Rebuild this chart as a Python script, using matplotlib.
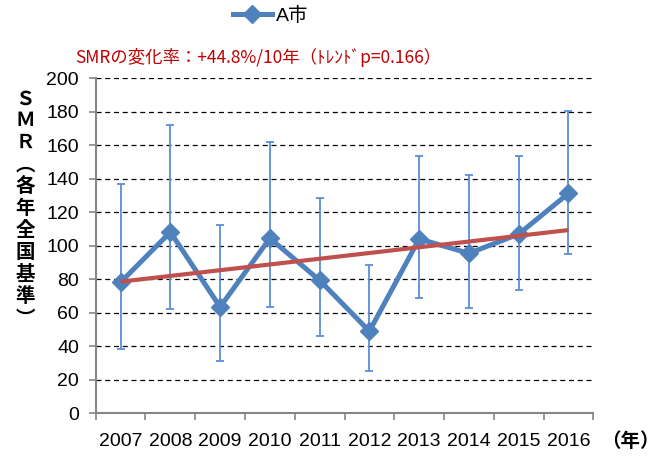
import matplotlib
matplotlib.use("Agg")
import matplotlib.pyplot as plt
from matplotlib.lines import Line2D
import numpy as np

# ── Data ──────────────────────────────────────────────────────────────────────
years     = ["2007", "2008", "2009", "2010", "2011", "2012", "2013", "2014", "2015", "2016"]
smr       = [78.2, 108.2, 63.5, 104.5, 79.4, 49.0, 104.1, 95.5, 107.0, 131.3]
ci_upper  = [136.7, 171.9, 112.2, 161.8, 128.7, 88.4, 153.6, 142.1, 153.6, 180.7]
ci_lower  = [38.6, 62.5, 31.2, 63.7, 46.1, 25.3, 68.8, 63.0, 73.4, 95.3]
trend_ends = [78.6, 109.4]   # Excel linear trend at first / last year
yticks    = [0, 20, 40, 60, 80, 100, 120, 140, 160, 180, 200]

title  = "SMRの変化率：+44.8%/10年（ﾄﾚﾝﾄﾞp=0.166）"
ylabel = "ＳＭＲ︵各年全国基準︶"
series = "A市"

BLUE  = "#4F81BD"
EBLUE = "#5A8FD8"
RED   = "#C0504D"
TRED  = "#C00000"
GRAY  = "#868686"

plt.rcParams["font.family"] = ["Liberation Sans", "Noto Sans CJK JP", "DejaVu Sans"]

fig = plt.figure(figsize=(6.6, 4.57), dpi=100, facecolor="white")
ax = fig.add_axes([0.145, 0.0956, 0.754, 0.733])

x = np.arange(len(years)) + 0.5
lo = np.array(smr) - np.array(ci_lower)
hi = np.array(ci_upper) - np.array(smr)

ax.errorbar(x, smr, yerr=[lo, hi], fmt="none", ecolor=EBLUE,
            elinewidth=1.3, capsize=3.2, capthick=1.3, zorder=2)
ax.plot(x, smr, color=BLUE, lw=3.6, marker="D", ms=9, zorder=3)
ax.plot([x[0], x[-1]], trend_ends, color=RED, lw=3.0,
        solid_capstyle="butt", zorder=4)

# ── Axes styling ─────────────────────────────────────────────────────────────
ax.set_xlim(0, len(years))
ax.set_ylim(0, 200)
ax.set_yticks(yticks)
ax.set_yticklabels([str(v) for v in yticks], fontsize=14)
for v in yticks[1:]:
    ax.axhline(v, color="black", lw=0.9, ls=(0, (4, 3)), zorder=1)

ax.set_xticks(np.arange(len(years) + 1))
ax.set_xticklabels([])
ax.set_xticks(x, minor=True)
ax.set_xticklabels(years, minor=True, fontsize=14)
ax.tick_params(axis="x", which="major", length=5, color=GRAY, width=1.2)
ax.tick_params(axis="x", which="minor", length=0, pad=14)
ax.tick_params(axis="y", length=5, color=GRAY, width=1.2, pad=7)

for s in ("top", "right"):
    ax.spines[s].set_visible(False)
for s in ("left", "bottom"):
    ax.spines[s].set_color(GRAY)
    ax.spines[s].set_linewidth(1.5)

# ── Texts ────────────────────────────────────────────────────────────────────
fig.text(0.392, 0.875, title, color=TRED, fontsize=12.5, ha="center", va="center",
         family=["Noto Sans CJK JP", "DejaVu Sans"])

fig.text(0.038, 0.543, "\n".join(ylabel), fontsize=14, fontweight="bold",
         ha="center", va="center", linespacing=1.2,
         family=["Noto Sans CJK JP", "DejaVu Sans"])

fig.text(0.955, 0.035, "（年）", fontsize=14, fontweight="bold",
         ha="center", va="center", family=["Noto Sans CJK JP", "DejaVu Sans"])

handle = Line2D([], [], color=BLUE, lw=3.6, marker="D", ms=9)
fig.legend([handle], [series], loc="center", bbox_to_anchor=(0.41, 0.965),
           frameon=False, fontsize=14, handlelength=2.0, handletextpad=0.2,
           prop={"family": ["Liberation Sans", "Noto Sans CJK JP"], "size": 14})

fig.savefig("out.png", dpi=100, facecolor=fig.get_facecolor())
